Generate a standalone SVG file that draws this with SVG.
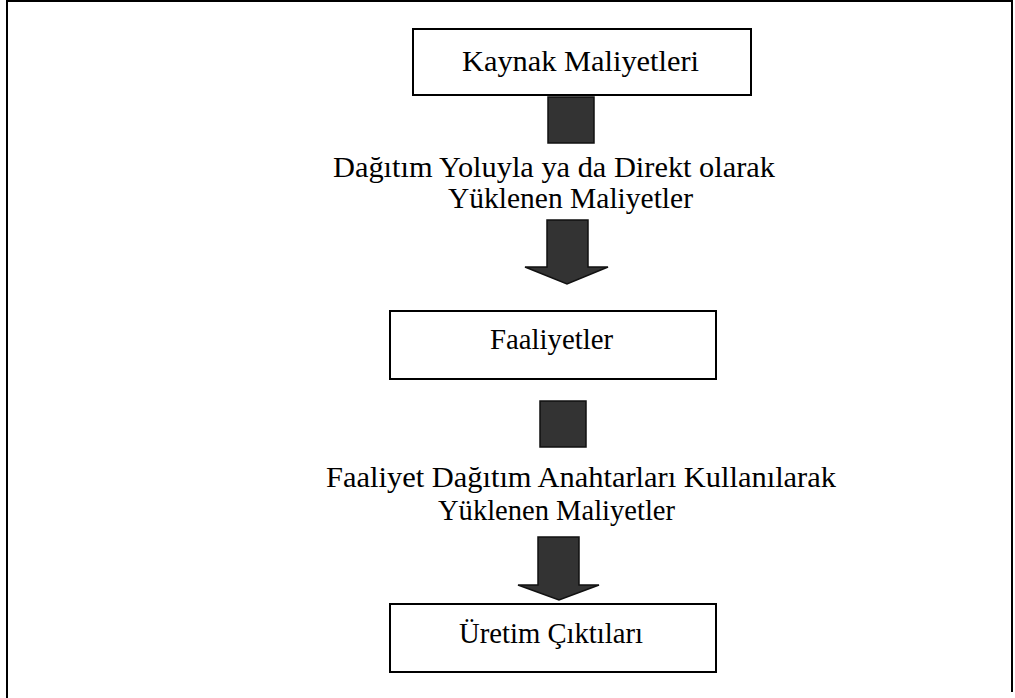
<svg xmlns="http://www.w3.org/2000/svg" width="1015" height="698" viewBox="0 0 1015 698">
<style>
.frame{fill:none;stroke:#000;stroke-width:2}
.box{fill:#fff;stroke:#000;stroke-width:2}
.arr{fill:#333;stroke:#111;stroke-width:1.5}
.t{font-family:"Liberation Serif","Times New Roman",serif;font-size:30px;fill:#000}
</style>
<rect width="1015" height="698" fill="#fff"/>
<g id="frame">
<path class="frame" d="M7,698 V1 H1012 V692"/>
</g>
<g id="node-kaynak">
<rect class="box" x="413" y="29" width="338" height="66"/>
<text class="t" x="462" y="71" textLength="237" lengthAdjust="spacingAndGlyphs">Kaynak Maliyetleri</text>
</g>
<g id="label-1">
<text class="t" x="333" y="177" textLength="442" lengthAdjust="spacingAndGlyphs">Dağıtım Yoluyla ya da Direkt olarak</text>
<text class="t" x="448" y="208" textLength="245" lengthAdjust="spacingAndGlyphs">Yüklenen Maliyetler</text>
</g>
<g id="node-faaliyetler">
<rect class="box" x="390" y="311" width="326" height="68"/>
<text class="t" x="490" y="349" textLength="123" lengthAdjust="spacingAndGlyphs">Faaliyetler</text>
</g>
<g id="label-2">
<text class="t" x="326" y="487" textLength="510" lengthAdjust="spacingAndGlyphs">Faaliyet Dağıtım Anahtarları Kullanılarak</text>
<text class="t" x="438" y="520" textLength="237" lengthAdjust="spacingAndGlyphs">Yüklenen Maliyetler</text>
</g>
<g id="node-uretim">
<rect class="box" x="390" y="604" width="326" height="68"/>
<text class="t" x="459" y="643" textLength="184" lengthAdjust="spacingAndGlyphs">Üretim Çıktıları</text>
</g>
<g id="connectors">
<rect class="arr" x="548" y="97" width="46" height="46"/>
<path class="arr" d="M547,220 H588 V267 H608 L567,284 L525,267 H547 Z"/>
<rect class="arr" x="540" y="401" width="46" height="46"/>
<path class="arr" d="M538,537 H579 V585 H599 L559,600 L518,585 H538 Z"/>
</g>
</svg>
